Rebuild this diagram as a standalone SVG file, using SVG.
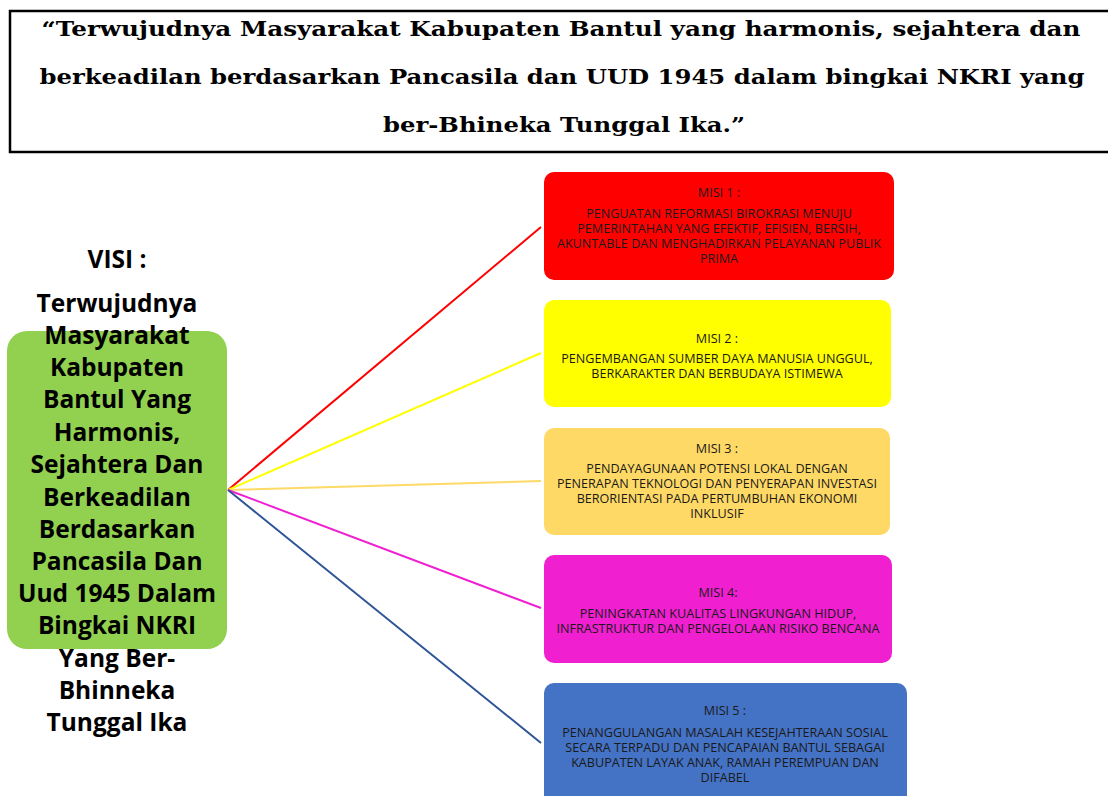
<svg xmlns="http://www.w3.org/2000/svg" width="1108" height="796" viewBox="0 0 1108 796">
<style>
.title{font-family:"DejaVu Serif","Liberation Serif",serif;font-weight:bold;font-size:21px;fill:#000;text-anchor:middle;dominant-baseline:central}
.visi{font-family:"Open Sans","Noto Sans",sans-serif;font-weight:bold;font-size:24.5px;fill:#000;text-anchor:middle;dominant-baseline:central}
.misi{font-family:"Open Sans","Noto Sans",sans-serif;font-size:12.6px;fill:#1a1a1a;text-anchor:middle;dominant-baseline:central}
.conn{stroke-width:2;fill:none}
</style>
<rect x="0" y="0" width="1108" height="796" fill="#fff"/>
<g id="header">
<rect x="10" y="11" width="1110" height="141" fill="#fff" stroke="#000" stroke-width="2.5"/>
<text class="title" x="561" y="28" textLength="1039" lengthAdjust="spacingAndGlyphs">“Terwujudnya Masyarakat Kabupaten Bantul yang harmonis, sejahtera dan</text>
<text class="title" x="562" y="76" textLength="1045" lengthAdjust="spacingAndGlyphs">berkeadilan berdasarkan Pancasila dan UUD 1945 dalam bingkai NKRI yang</text>
<text class="title" x="564" y="124" textLength="362" lengthAdjust="spacingAndGlyphs">ber-Bhineka Tunggal Ika.”</text>
</g>
<g id="connectors">
<line class="conn" x1="228" y1="490" x2="541" y2="227" stroke="#FF0000"/>
<line class="conn" x1="228" y1="490" x2="541" y2="353" stroke="#FFFF00"/>
<line class="conn" x1="228" y1="490" x2="541" y2="481" stroke="#FFD966"/>
<line class="conn" x1="228" y1="490" x2="541" y2="608" stroke="#F020D0"/>
<line class="conn" x1="228" y1="490" x2="541" y2="743" stroke="#2F5597"/>
</g>
<g id="visi">
<rect x="7" y="331" width="220" height="318" rx="20" fill="#92D050"/>
<text class="visi" x="117" y="258">VISI :</text>
<text class="visi" x="117" y="302">Terwujudnya</text>
<text class="visi" x="117" y="334">Masyarakat</text>
<text class="visi" x="117" y="366">Kabupaten</text>
<text class="visi" x="117" y="398">Bantul Yang</text>
<text class="visi" x="117" y="431">Harmonis,</text>
<text class="visi" x="117" y="463">Sejahtera Dan</text>
<text class="visi" x="117" y="496">Berkeadilan</text>
<text class="visi" x="117" y="528">Berdasarkan</text>
<text class="visi" x="117" y="560">Pancasila Dan</text>
<text class="visi" x="117" y="592">Uud 1945 Dalam</text>
<text class="visi" x="117" y="624">Bingkai NKRI</text>
<text class="visi" x="117" y="657">Yang Ber-</text>
<text class="visi" x="117" y="689">Bhinneka</text>
<text class="visi" x="117" y="721">Tunggal Ika</text>
</g>
<g id="misi1">
<rect x="544" y="172" width="350" height="108" rx="10" fill="#FF0000"/>
<text class="misi" x="719" y="192">MISI 1 :</text>
<text class="misi" x="719" y="213">PENGUATAN REFORMASI BIROKRASI MENUJU</text>
<text class="misi" x="719" y="228">PEMERINTAHAN YANG EFEKTIF, EFISIEN, BERSIH,</text>
<text class="misi" x="719" y="243">AKUNTABLE DAN MENGHADIRKAN PELAYANAN PUBLIK</text>
<text class="misi" x="719" y="258">PRIMA</text>
</g>
<g id="misi2">
<rect x="544" y="300" width="347" height="107" rx="10" fill="#FFFF00"/>
<text class="misi" x="717" y="338">MISI 2 :</text>
<text class="misi" x="717" y="358">PENGEMBANGAN SUMBER DAYA MANUSIA UNGGUL,</text>
<text class="misi" x="717" y="373">BERKARAKTER DAN BERBUDAYA ISTIMEWA</text>
</g>
<g id="misi3">
<rect x="544" y="428" width="346" height="107" rx="10" fill="#FFD966"/>
<text class="misi" x="717" y="448">MISI 3 :</text>
<text class="misi" x="717" y="468">PENDAYAGUNAAN POTENSI LOKAL DENGAN</text>
<text class="misi" x="717" y="483">PENERAPAN TEKNOLOGI DAN PENYERAPAN INVESTASI</text>
<text class="misi" x="717" y="498">BERORIENTASI PADA PERTUMBUHAN EKONOMI</text>
<text class="misi" x="717" y="513">INKLUSIF</text>
</g>
<g id="misi4">
<rect x="544" y="555" width="348" height="108" rx="10" fill="#F020D0"/>
<text class="misi" x="718" y="592">MISI 4:</text>
<text class="misi" x="718" y="613">PENINGKATAN KUALITAS LINGKUNGAN HIDUP,</text>
<text class="misi" x="718" y="628">INFRASTRUKTUR DAN PENGELOLAAN RISIKO BENCANA</text>
</g>
<g id="misi5">
<rect x="544" y="683" width="363" height="130" rx="10" fill="#4472C4"/>
<text class="misi" x="725" y="710">MISI 5 :</text>
<text class="misi" x="725" y="732">PENANGGULANGAN MASALAH KESEJAHTERAAN SOSIAL</text>
<text class="misi" x="725" y="747">SECARA TERPADU DAN PENCAPAIAN BANTUL SEBAGAI</text>
<text class="misi" x="725" y="762">KABUPATEN LAYAK ANAK, RAMAH PEREMPUAN DAN</text>
<text class="misi" x="725" y="777">DIFABEL</text>
</g>
</svg>
